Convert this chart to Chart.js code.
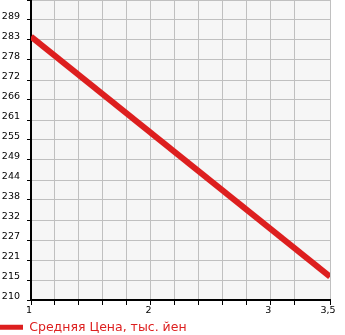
<!DOCTYPE html>
<html>
<head>
<meta charset="utf-8">
<script src="https://cdn.jsdelivr.net/npm/chart.js@4.4.0/dist/chart.umd.min.js"></script>
<style>
  html, body { margin: 0; padding: 0; background: #ffffff; }
  #wrap { width: 345px; height: 335px; }
</style>
</head>
<body>
<div id="wrap"><canvas id="chart" width="345" height="335"></canvas></div>
<script>
// values
const xValues = [1, 3.5];
const priceValues = [284.6, 216.6];
const seriesLabel = 'Средняя Цена, тыс. йен';
const yMin = 210;
const yMax = 295;
const yStep = 85 / 15;
const xMin = 1;
const xMax = 3.5;
const xStep = 0.2;

const red = '#dd1f1f';
const fontFamily = '"DejaVu Sans", sans-serif';

// light grey plot background
const plotBg = {
  id: 'plotBg',
  beforeDraw(chart) {
    const { ctx, chartArea: a } = chart;
    ctx.save();
    ctx.fillStyle = '#f6f6f6';
    ctx.fillRect(a.left, a.top, a.right - a.left, a.bottom - a.top);
    ctx.restore();
  },
};

new Chart(document.getElementById('chart'), {
  type: 'line',
  data: {
    datasets: [{
      label: seriesLabel,
      data: xValues.map((x, i) => ({ x: x, y: priceValues[i] })),
      borderColor: red,
      backgroundColor: red,
      borderWidth: 6,
      pointRadius: 0,
      fill: false,
      tension: 0,
    }],
  },
  options: {
    responsive: false,
    animation: false,
    layout: { padding: { left: 0, right: 15, top: 0, bottom: 0 } },
    scales: {
      x: {
        type: 'linear',
        min: xMin,
        max: xMax,
        ticks: {
          stepSize: xStep,
          autoSkip: false,
          maxRotation: 0,
          color: '#000',
          font: { family: fontFamily, size: 9.5 },
          padding: 0,
          labelOffset: -2,
          callback: (v) => {
            if (Math.abs(v - Math.round(v)) < 1e-6) return String(Math.round(v));
            if (Math.abs(v - xMax) < 1e-6) return '3,5';
            return '';
          },
        },
        grid: { color: '#c0c0c0', lineWidth: 1, tickLength: 5, tickColor: '#000' },
        border: { color: '#000', width: 2 },
        afterFit: (scale) => {
          scale.height = 21;
          scale.paddingLeft = 0;
          scale.paddingRight = 0;
        },
      },
      y: {
        min: yMin,
        max: yMax,
        ticks: {
          stepSize: yStep,
          color: '#000',
          font: { family: fontFamily, size: 9.5 },
          padding: 7,
          labelOffset: -3,
          callback: (v) => (v >= yMax - 0.01 ? '' : String(Math.floor(v + 1e-6))),
        },
        grid: { color: '#c0c0c0', lineWidth: 1, tickLength: 4, tickColor: '#000' },
        border: { color: '#000', width: 2 },
        afterFit: (scale) => {
          scale.width = 31;
          scale.paddingTop = 0;
          scale.paddingBottom = 0;
        },
      },
    },
    plugins: {
      tooltip: { enabled: false },
      legend: {
        position: 'bottom',
        align: 'start',
        maxHeight: 14,
        labels: {
          color: red,
          font: { family: fontFamily, size: 12.5 },
          boxWidth: 23,
          boxHeight: 5,
          padding: 0,
          generateLabels: () => [{
            text: seriesLabel,
            fillStyle: red,
            strokeStyle: red,
            lineWidth: 0,
            fontColor: red,
            datasetIndex: 0,
          }],
        },
      },
    },
  },
  plugins: [plotBg],
});
</script>
</body>
</html>
